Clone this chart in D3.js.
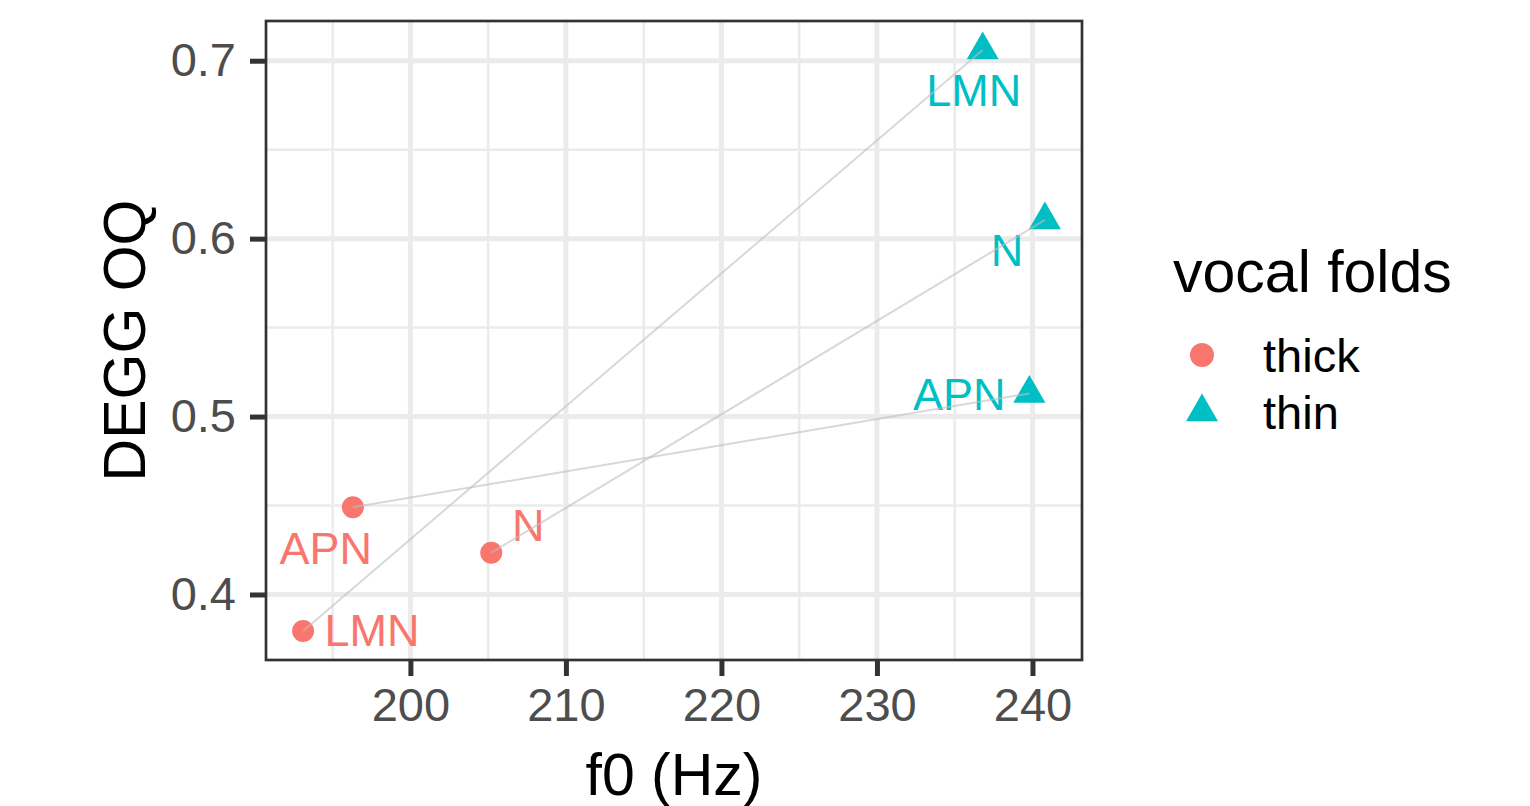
<!DOCTYPE html>
<html>
<head>
<meta charset="utf-8">
<script src="https://cdn.jsdelivr.net/npm/d3@7"></script>
<style>
  body { margin: 0; background: #fff; }
  svg { font-family: "Liberation Sans", Arial, sans-serif; }
</style>
</head>
<body>
<svg id="chart" width="1530" height="806"></svg>
<script>
// data
const phonations = ['LMN', 'APN', 'N'];
const thickF0 = [193.1, 196.3, 205.2];
const thickOQ = [0.3795, 0.449, 0.4235];
const thinF0 = [236.8, 239.8, 240.8];
const thinOQ = [0.706, 0.513, 0.6105];
const xTicks = [200, 210, 220, 230, 240];
const yTicks = [0.4, 0.5, 0.6, 0.7];
const groups = ['thick', 'thin'];

const colors = { thick: '#F8766D', thin: '#00BFC4' };

// where the text labels sit, relative to their point (px)
const labelNudge = {
    thick: { LMN: [69, 15], APN: [-27, 57], N: [37, -12] },
    thin:  { LMN: [-9, 56], APN: [-70, 17], N: [-38, 46] }
};

const points = [];
phonations.forEach((p, i) => {
    points.push({ group: 'thick', label: p, x: thickF0[i], y: thickOQ[i] });
    points.push({ group: 'thin', label: p, x: thinF0[i], y: thinOQ[i] });
});

const svg = d3.select('#chart');
const panel = { left: 266, right: 1082, top: 21, bottom: 660 };

// ggplot style 5% expansion
function expand(ext) {
    const pad = (ext[1] - ext[0]) * 0.05;
    return [ext[0] - pad, ext[1] + pad];
}
const x = d3.scaleLinear()
    .domain(expand(d3.extent(points, d => d.x)))
    .range([panel.left, panel.right]);
const y = d3.scaleLinear()
    .domain(expand(d3.extent(points, d => d.y)))
    .range([panel.bottom, panel.top]);

// grid
const grid = svg.append('g');
const xMinor = xTicks.map(t => t - 5).concat([xTicks[xTicks.length - 1] + 5])
    .filter(v => v > x.domain()[0] && v < x.domain()[1]);
const yMinor = yTicks.map(t => t - 0.05).concat([yTicks[yTicks.length - 1] + 0.05])
    .filter(v => v > y.domain()[0] && v < y.domain()[1]);

grid.selectAll('.xminor').data(xMinor).join('line')
    .attr('x1', d => x(d)).attr('x2', d => x(d))
    .attr('y1', panel.top).attr('y2', panel.bottom)
    .attr('stroke', '#EBEBEB').attr('stroke-width', 2.5);
grid.selectAll('.yminor').data(yMinor).join('line')
    .attr('y1', d => y(d)).attr('y2', d => y(d))
    .attr('x1', panel.left).attr('x2', panel.right)
    .attr('stroke', '#EBEBEB').attr('stroke-width', 2.5);
grid.selectAll('.xmajor').data(xTicks).join('line')
    .attr('x1', d => x(d)).attr('x2', d => x(d))
    .attr('y1', panel.top).attr('y2', panel.bottom)
    .attr('stroke', '#EBEBEB').attr('stroke-width', 5);
grid.selectAll('.ymajor').data(yTicks).join('line')
    .attr('y1', d => y(d)).attr('y2', d => y(d))
    .attr('x1', panel.left).attr('x2', panel.right)
    .attr('stroke', '#EBEBEB').attr('stroke-width', 5);

// axes
const xAxis = svg.append('g')
    .attr('transform', `translate(0,${panel.bottom})`)
    .call(d3.axisBottom(x).tickValues(xTicks).tickSize(16).tickPadding(12).tickFormat(d3.format('d')));
const yAxis = svg.append('g')
    .attr('transform', `translate(${panel.left},0)`)
    .call(d3.axisLeft(y).tickValues(yTicks).tickSize(16).tickPadding(14).tickFormat(d3.format('.1f')));

[xAxis, yAxis].forEach(ax => {
    ax.select('.domain').remove();
    ax.selectAll('.tick line').attr('stroke', '#333333').attr('stroke-width', 5);
    ax.selectAll('.tick text')
        .attr('fill', '#4D4D4D')
        .style('font-size', '47px')
        .style('font-family', '"Liberation Sans", Arial, sans-serif');
});

// points
const marks = svg.append('g');
marks.selectAll('circle').data(points.filter(d => d.group === 'thick')).join('circle')
    .attr('cx', d => x(d.x)).attr('cy', d => y(d.y))
    .attr('r', 11)
    .attr('fill', colors.thick);

const triPath = 'M0,-18.5L16,9.2L-16,9.2Z';
marks.selectAll('path').data(points.filter(d => d.group === 'thin')).join('path')
    .attr('d', triPath)
    .attr('transform', d => `translate(${x(d.x)},${y(d.y)})`)
    .attr('fill', colors.thin);

// labels
svg.append('g').selectAll('text').data(points).join('text')
    .attr('x', d => x(d.x) + labelNudge[d.group][d.label][0])
    .attr('y', d => y(d.y) + labelNudge[d.group][d.label][1])
    .attr('text-anchor', 'middle')
    .attr('fill', d => colors[d.group])
    .style('font-size', '45px')
    .text(d => d.label);

// connecting lines thick -> thin
svg.append('g').selectAll('line').data(phonations).join('line')
    .attr('x1', (d, i) => x(thickF0[i])).attr('y1', (d, i) => y(thickOQ[i]))
    .attr('x2', (d, i) => x(thinF0[i])).attr('y2', (d, i) => y(thinOQ[i]))
    .attr('stroke', '#BEBEBE')
    .attr('stroke-opacity', 0.6)
    .attr('stroke-width', 2);

// panel border
svg.append('rect')
    .attr('x', panel.left).attr('y', panel.top)
    .attr('width', panel.right - panel.left).attr('height', panel.bottom - panel.top)
    .attr('fill', 'none').attr('stroke', '#333333').attr('stroke-width', 2.7);

// axis titles
svg.append('text')
    .attr('x', (panel.left + panel.right) / 2).attr('y', 795)
    .attr('text-anchor', 'middle')
    .style('font-size', '59px')
    .text('f0 (Hz)');
svg.append('text')
    .attr('transform', `translate(145,${(panel.top + panel.bottom) / 2}) rotate(-90)`)
    .attr('text-anchor', 'middle')
    .style('font-size', '59px')
    .text('DEGG OQ');

// legend
const legend = svg.append('g');
legend.append('text')
    .attr('x', 1173).attr('y', 292)
    .style('font-size', '59px')
    .text('vocal folds');
const keys = legend.selectAll('.key').data(groups).join('g')
    .attr('transform', (d, i) => `translate(1202,${355 + i * 57})`);
keys.filter(d => d === 'thick').append('circle').attr('r', 12).attr('fill', colors.thick);
keys.filter(d => d === 'thin').append('path').attr('d', triPath).attr('fill', colors.thin);
keys.append('text')
    .attr('x', 61).attr('y', 17)
    .style('font-size', '47px')
    .text(d => d);
</script>
</body>
</html>
